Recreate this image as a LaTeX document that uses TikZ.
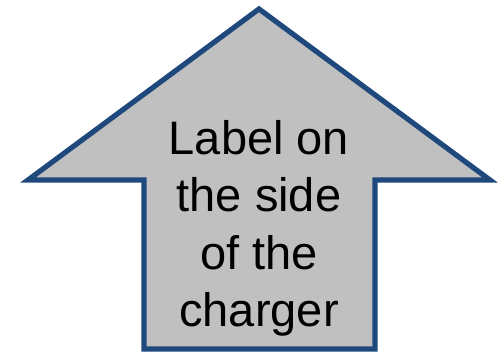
\documentclass[tikz,border=0pt]{standalone}
\usepackage{fontspec}
\setmainfont{Liberation Sans}
\usepackage{tikz}
\usetikzlibrary{positioning, calc}
\definecolor{arrowblue}{RGB}{31,73,125}
\definecolor{arrowgray}{RGB}{192,192,192}

\begin{document}
\begin{tikzpicture}[x=1pt, y=-1pt,
    uparrow/.style={draw=arrowblue, fill=arrowgray, line width=5.2pt, line join=miter},
    labeltext/.style={font=\fontsize{47}{57}\selectfont, align=center, inner sep=0pt}]
    \useasboundingbox (0,0) rectangle (500,352);
    % arrow outline
    \coordinate (tip) at (259,9);
    \draw[uparrow] (tip) -- (490,180) -- (375,180) -- (375,349)
        -- (144,349) -- (144,180) -- (28,180) -- cycle;
    \node[labeltext, anchor=base] (label) at (259,326) {Label on\\the side\\of the\\charger};
\end{tikzpicture}
\end{document}
